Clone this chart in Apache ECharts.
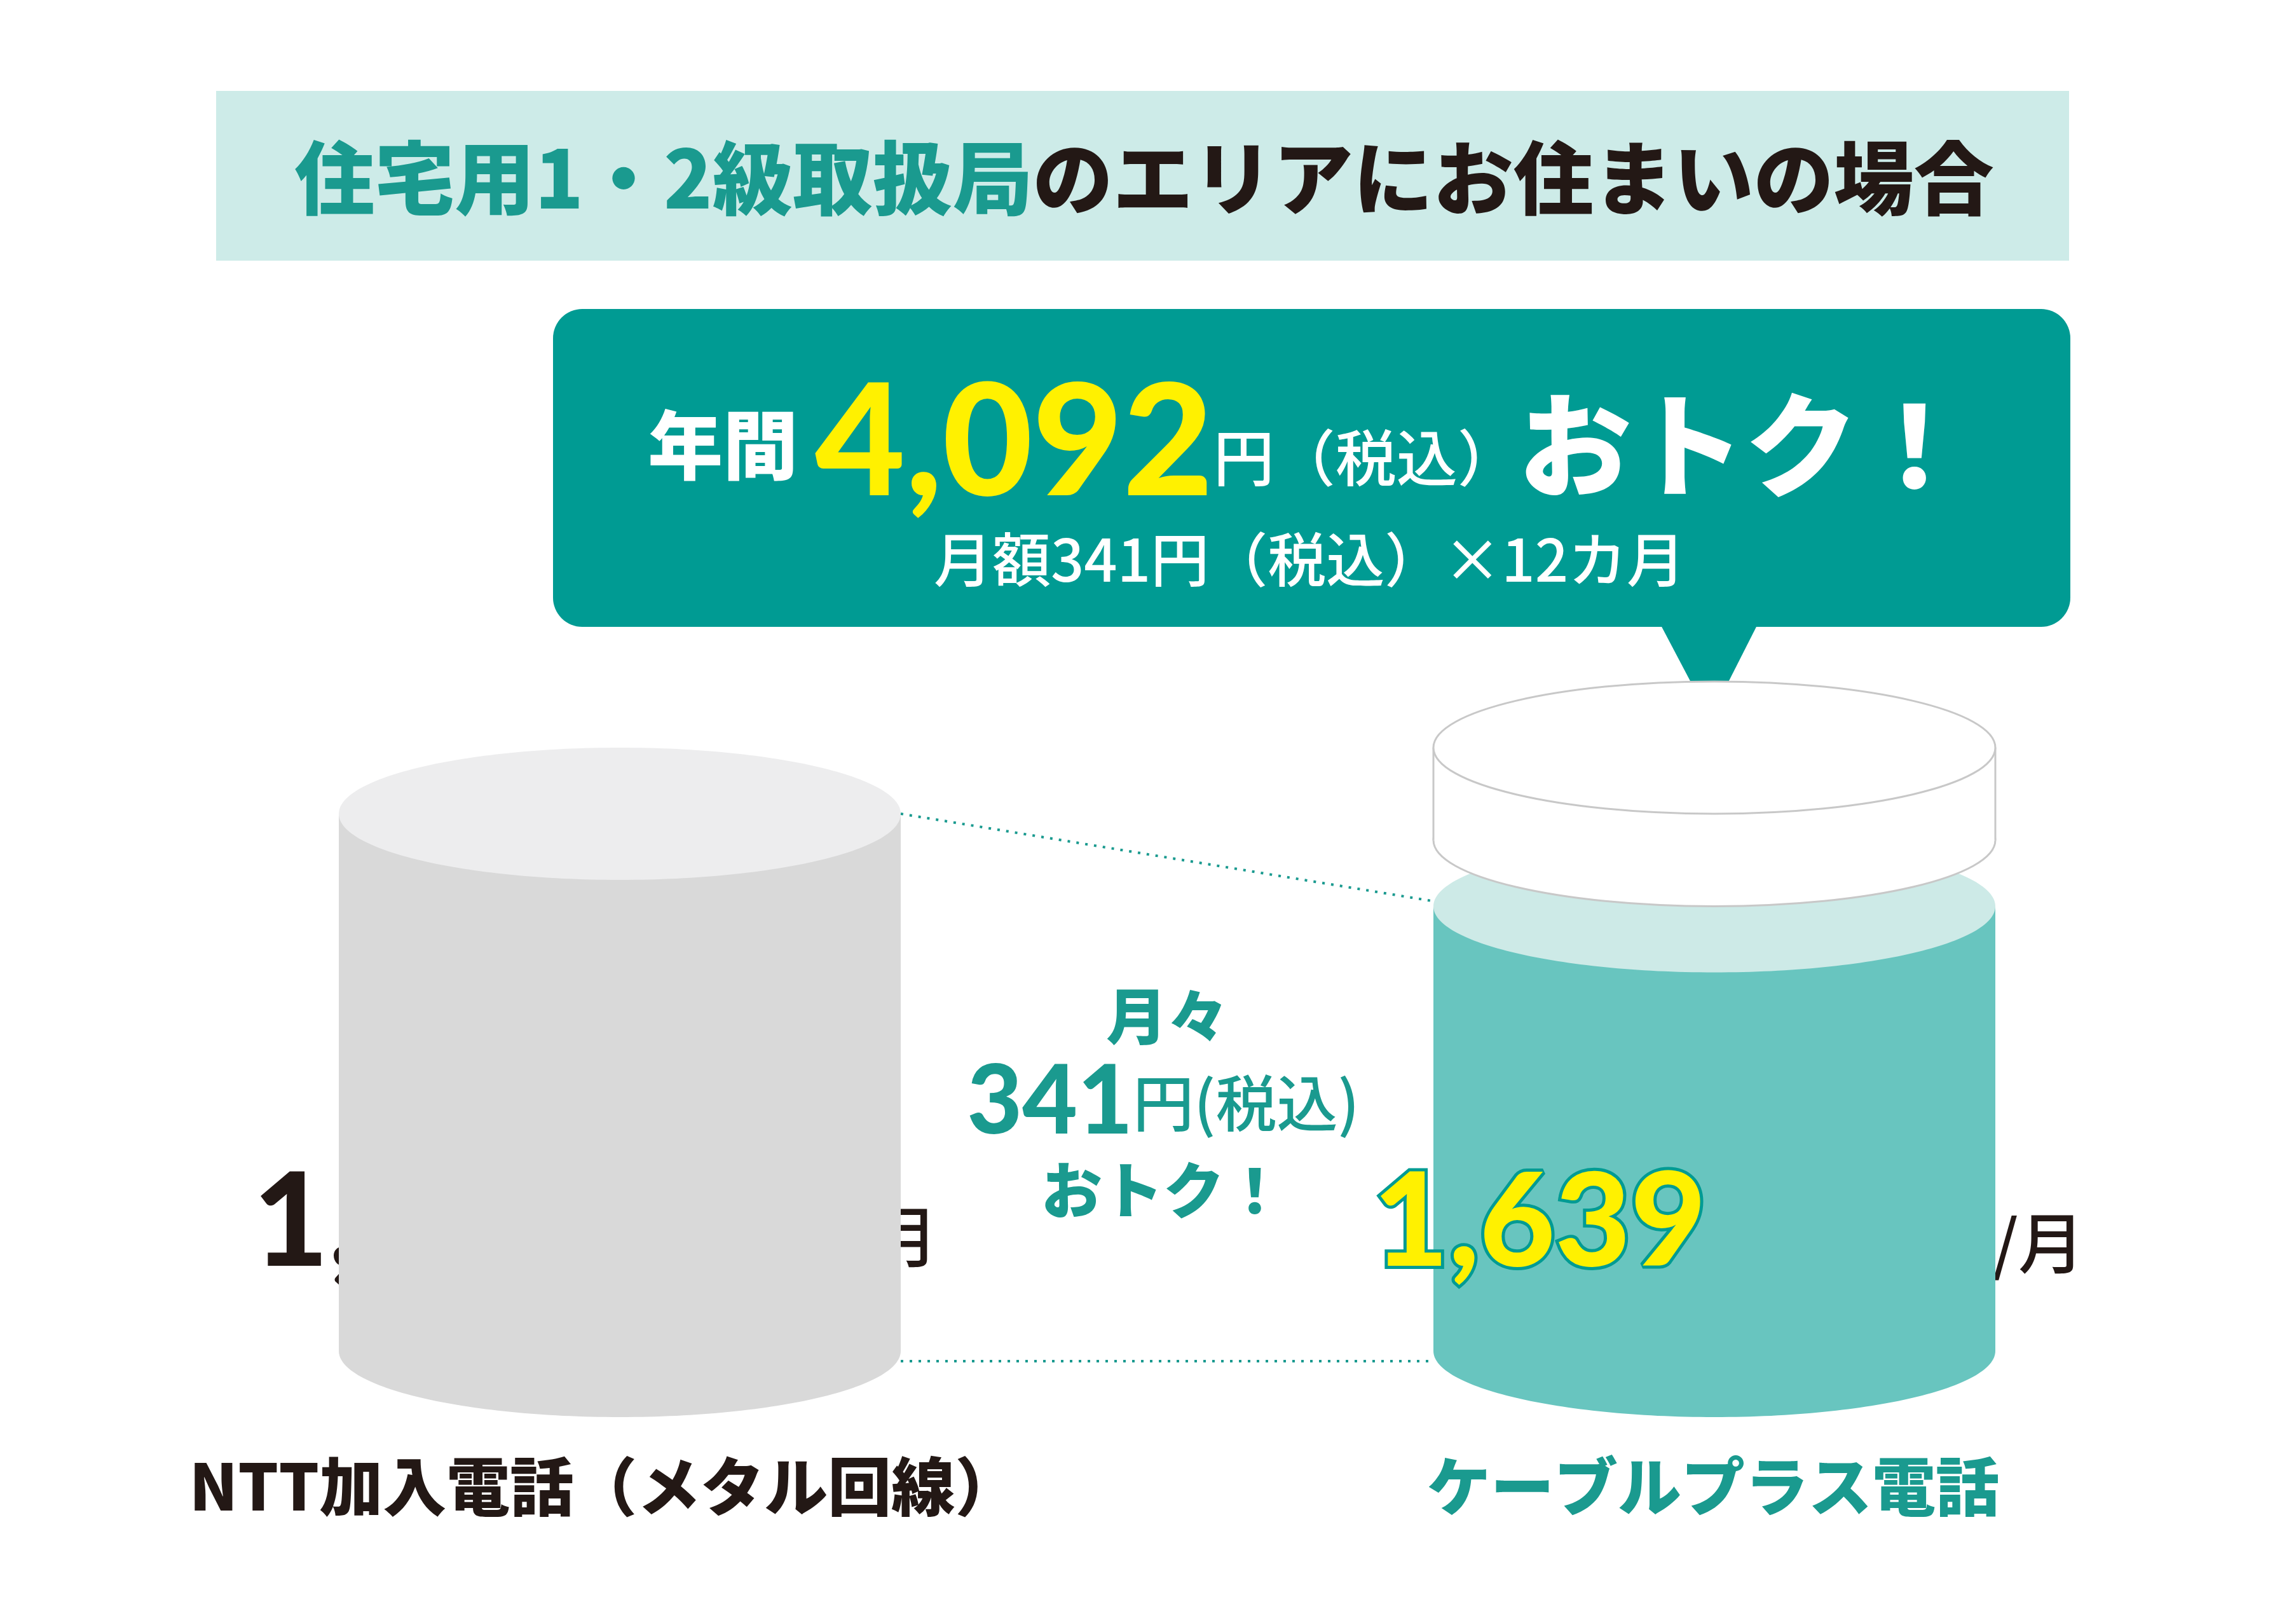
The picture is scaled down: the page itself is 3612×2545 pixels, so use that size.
<!DOCTYPE html>
<html><head><meta charset="utf-8">
<script src="https://cdn.jsdelivr.net/npm/echarts@6/dist/echarts.min.js"></script>
<style>html,body{margin:0;padding:0;background:#fff}#c{width:3612px;height:2545px}</style>
</head><body><div id="c"></div>
<script>
const categories = ['NTT加入電話（メタル回線）', 'ケーブルプラス電話'];
const monthlyFees = [1980, 1639];
const monthlySaving = 341;
const annualSaving = 4092;

const F = '"Noto Sans CJK JP","Noto Sans",sans-serif';
const chart = echarts.init(document.getElementById('c'));
const HW = 442, RY = 104, LIFT = 104;
const sideCol = ['#d9d9d9', '#68c5bf'], topCol = ['#ededee', '#cdeae7'];

function renderItem(params, api) {
  const i = api.value(0), v = api.value(1);
  const b = api.coord([i, 0]), t = api.coord([i, v]);
  const cx = b[0];
  const ch = [
    {type:'ellipse', shape:{cx, cy:b[1], rx:HW, ry:RY}, style:{fill:sideCol[i]}},
    {type:'rect', shape:{x:cx-HW, y:t[1], width:2*HW, height:b[1]-t[1]}, style:{fill:sideCol[i]}},
    {type:'ellipse', shape:{cx, cy:t[1], rx:HW, ry:RY}, style:{fill:topCol[i]}}
  ];
  if (i === 1) {
    const top = api.coord([i, monthlyFees[0]])[1] - LIFT, bot = t[1] - LIFT;
    const st = {stroke:'#c8c8c8', lineWidth:3};
    ch.push(
      {type:'ellipse', shape:{cx, cy:bot, rx:HW, ry:RY}, style:Object.assign({fill:'#fff'}, st)},
      {type:'rect', shape:{x:cx-HW, y:top, width:2*HW, height:bot-top}, style:{fill:'#fff'}},
      {type:'line', shape:{x1:cx-HW, y1:top, x2:cx-HW, y2:bot}, style:st},
      {type:'line', shape:{x1:cx+HW, y1:top, x2:cx+HW, y2:bot}, style:st},
      {type:'ellipse', shape:{cx, cy:top, rx:HW, ry:RY}, style:Object.assign({fill:'#fff'}, st)}
    );
  }
  return {type:'group', children:ch};
}

function txt(x, y, text, rich, align) {
  return {type:'text', x, y, style:{text, rich, align:align||'center', verticalAlign:'middle', font:'700 40px '+F}};
}
const teal = '#009b93', tt = '#1a9a8f';

chart.setOption({
  animation:false,
  grid:{left:114, right:54, top:1058, bottom:420},
  xAxis:{type:'category', data:categories, show:false},
  yAxis:{type:'value', min:0, max:2500, show:false},
  series:[{type:'custom', renderItem, data:monthlyFees.map((v,i)=>[i,v]), z:2}],
  graphic:[
    {type:'rect', shape:{x:340, y:143, width:2915, height:267}, style:{fill:'#cdebe8'}},
    txt(1800, 280, '{a|住宅用1・2級取扱局}{b|のエリアにお住まいの場合}', {
      a:{fontFamily:F, fontWeight:900, fontSize:126, fill:tt},
      b:{fontFamily:F, fontWeight:900, fontSize:126, fill:'#231815'}}),
    {type:'rect', shape:{x:870, y:486, width:2387, height:500, r:46}, style:{fill:teal}},
    {type:'polygon', shape:{points:[[2611,980],[2766,980],[2690,1130]]}, style:{fill:teal}},
    txt(2060, 700, '{a|年間 }{b|'+annualSaving.toLocaleString('en-US')+'}{c|円（税込）}{d|おトク！}', {
      a:{fontFamily:F, fontWeight:900, fontSize:118, fill:'#fff'},
      b:{fontFamily:'Lato,Roboto,sans-serif', fontWeight:900, fontSize:245, fill:'#fff100'},
      c:{fontFamily:F, fontWeight:500, fontSize:96, fill:'#fff', padding:[40,0,0,0]},
      d:{fontFamily:F, fontWeight:900, fontSize:178, fill:'#fff'}}),
    txt(2060, 880, '{a|月額'+monthlySaving+'円（税込）×12カ月}', {
      a:{fontFamily:F, fontWeight:500, fontSize:92, fill:'#fff'}}),
    {type:'line', shape:{x1:1417,y1:1280,x2:2252,y2:1417}, style:{stroke:tt, lineWidth:4, lineDash:[4,10]}},
    {type:'line', shape:{x1:1417,y1:2141,x2:2252,y2:2141}, style:{stroke:tt, lineWidth:4, lineDash:[4,10]}},
    txt(1836, 1598, '{a|月々}', {a:{fontFamily:F, fontWeight:900, fontSize:96, fill:tt}}),
    txt(1830, 1735, '{a|'+monthlySaving+'}{b|円(税込)}', {
      a:{fontFamily:'Lato,sans-serif', fontWeight:900, fontSize:150, fill:tt},
      b:{fontFamily:F, fontWeight:500, fontSize:96, fill:tt}}),
    txt(1830, 1872, '{a|おトク！}', {a:{fontFamily:F, fontWeight:900, fontSize:96, fill:tt}}),
    txt(398, 1925, '{a|'+monthlyFees[0].toLocaleString('en-US')+'}{b|円(税込) /月}', {
      a:{fontFamily:'Lato,sans-serif', fontWeight:900, fontSize:205, fill:'#231815'},
      b:{fontFamily:F, fontWeight:500, fontSize:104, fill:'#231815', padding:[40,0,0,0]}}, 'left'),
    txt(940, 1835, '{a|*1 *2}', {a:{fontFamily:F, fontWeight:400, fontSize:72, fill:'#231815'}}, 'left'),
    {type:'text', x:2160, y:1925, z:10, style:{text:monthlyFees[1].toLocaleString('en-US'), fontFamily:'Lato,sans-serif', fontWeight:900, fontSize:205, fill:'#fff100', stroke:teal, lineWidth:10, align:'left', verticalAlign:'middle'}},
    txt(2725, 1935, '{b|円(税込) /月}', {b:{fontFamily:F, fontWeight:500, fontSize:104, fill:'#231815', padding:[40,0,0,0]}}, 'left'),
    txt(2710, 1825, '{a|*1}', {a:{fontFamily:F, fontWeight:400, fontSize:72, fill:'#231815'}}, 'left'),
    txt(950, 2338, '{a|'+categories[0]+'}', {a:{fontFamily:F, fontWeight:900, fontSize:100, fill:'#231815'}}),
    txt(2695, 2338, '{a|'+categories[1]+'}', {a:{fontFamily:F, fontWeight:900, fontSize:100, fill:tt}})
  ]
});
</script></body></html>
